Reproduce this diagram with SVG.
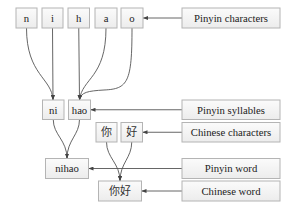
<svg xmlns="http://www.w3.org/2000/svg" width="302" height="213" viewBox="0 0 302 213">
<style>
.box{fill:url(#g);stroke:#b4b4b4;stroke-width:1}
.t{font-family:"Liberation Serif","Noto Sans CJK SC",serif;font-size:10.7px;fill:#222;text-anchor:middle}
.c{font-family:"Liberation Serif","Noto Sans CJK SC",serif;font-size:11px;fill:#333;text-anchor:middle}
.e{fill:none;stroke:#555;stroke-width:0.9;marker-end:url(#ah)}
</style>
<defs>
<linearGradient id="g" x1="0" y1="0" x2="0" y2="1">
<stop offset="0" stop-color="#fbfbfb"/>
<stop offset="1" stop-color="#ececec"/>
</linearGradient>
<marker id="ah" markerUnits="userSpaceOnUse" markerWidth="5" markerHeight="4" refX="5" refY="2" orient="auto">
<path d="M0,0 L5,2 L0,4 z" fill="#444"/>
</marker>
</defs>
<rect width="302" height="213" fill="#fff"/>
<g id="connectors">
<path class="e" d="M26.5,28 C26.5,75 52,78 53,100"/>
<path class="e" d="M52.5,28 L53,100"/>
<path class="e" d="M78.75,28 L79.5,100"/>
<path class="e" d="M106,28 C106,78 82,78 79.5,100"/>
<path class="e" d="M132,28 C132,82 128,89 104,90 C88,91 81,92 79.5,100"/>
<path class="e" d="M53.25,119.5 C53.25,135 67,140 67,158.5"/>
<path class="e" d="M79.5,119.5 C79.5,135 67,140 67,158.5"/>
<path class="e" d="M106.5,142 C106.5,158 120,163 120,181"/>
<path class="e" d="M131.75,142 C131.75,158 120,163 120,181"/>
<path class="e" d="M182,18 L143,18"/>
<path class="e" d="M182,109.75 L90.5,109.75"/>
<path class="e" d="M182,132.25 L142.5,132.25"/>
<path class="e" d="M182,168.5 L88.5,168.5"/>
<path class="e" d="M182,191 L141.5,191"/>
</g>
<g id="n"><rect class="box" x="16" y="8" width="21" height="20"/><text class="t" x="26.5" y="21.8">n</text></g>
<g id="i"><rect class="box" x="42" y="8" width="21" height="20"/><text class="t" x="52.5" y="21.8">i</text></g>
<g id="h"><rect class="box" x="68" y="8" width="21.5" height="20"/><text class="t" x="78.75" y="21.8">h</text></g>
<g id="a"><rect class="box" x="95" y="8" width="22" height="20"/><text class="t" x="106" y="21.8">a</text></g>
<g id="o"><rect class="box" x="121" y="8" width="22" height="20"/><text class="t" x="132" y="21.8">o</text></g>
<g id="ni"><rect class="box" x="42.5" y="100" width="21.5" height="19.5"/><text class="t" x="53.25" y="113.5">ni</text></g>
<g id="hao"><rect class="box" x="68.5" y="100" width="22" height="19.5"/><text class="t" x="79.5" y="113.5">hao</text></g>
<g id="ni_c"><rect class="box" x="96" y="122.5" width="21" height="19.5"/><text class="c" x="106.5" y="136.2">你</text></g>
<g id="hao_c"><rect class="box" x="121" y="122.5" width="21.5" height="19.5"/><text class="c" x="131.75" y="136.2">好</text></g>
<g id="nihao"><rect class="box" x="45.5" y="158.5" width="43" height="20"/><text class="t" x="67" y="172.2">nihao</text></g>
<g id="nihao_c"><rect class="box" x="98.5" y="181" width="43" height="20"/><text class="c" x="120" y="194.9">你好</text></g>
<g id="pinyin_characters"><rect class="box" x="182" y="8" width="98" height="20"/><text class="t" x="231" y="21.8">Pinyin characters</text></g>
<g id="pinyin_syllables"><rect class="box" x="182" y="100" width="98" height="19.5"/><text class="t" x="231" y="113.5">Pinyin syllables</text></g>
<g id="chinese_characters"><rect class="box" x="182" y="122.5" width="98" height="19.5"/><text class="t" x="231" y="136">Chinese characters</text></g>
<g id="pinyin_word"><rect class="box" x="182" y="158.5" width="98" height="20"/><text class="t" x="231" y="172.2">Pinyin word</text></g>
<g id="chinese_word"><rect class="box" x="182" y="181" width="98" height="20"/><text class="t" x="231" y="194.7">Chinese word</text></g>
</svg>
